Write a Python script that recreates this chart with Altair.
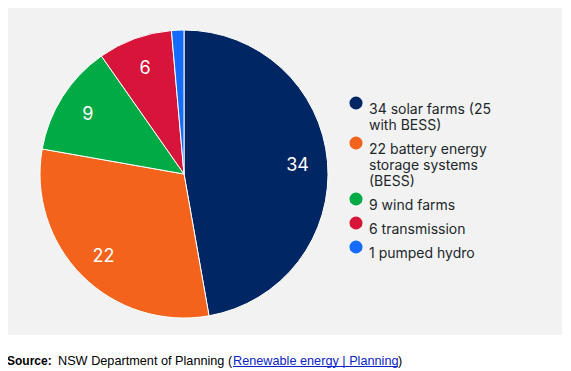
import altair as alt
import pandas as pd

categories = [
    "34 solar farms (25|with BESS)",
    "22 battery energy|storage systems|(BESS)",
    "9 wind farms",
    "6 transmission",
    "1 pumped hydro",
]
values = [34, 22, 9, 6, 1]
slice_labels = ["34", "22", "9", "6", ""]
colors = ["#002664", "#f3631b", "#00aa45", "#d7153a", "#146cfd"]

df = pd.DataFrame({
    "category": categories,
    "value": values,
    "label": slice_labels,
    "idx": list(range(len(categories))),
})

one = pd.DataFrame({"k": [0]})

cx, cy = 176, 166

bg = alt.Chart(one).mark_rect(color="#f2f2f2").encode(
    x=alt.value(0), x2=alt.value(554), y=alt.value(0), y2=alt.value(327)
)

theta = alt.Theta("value:Q", stack=True)
color = alt.Color(
    "category:N",
    scale=alt.Scale(domain=categories, range=colors),
    legend=alt.Legend(
        title=None,
        orient="none",
        legendX=341,
        legendY=88,
        symbolType="circle",
        symbolSize=170,
        symbolStrokeWidth=0,
        labelFont="Inter",
        labelFontSize=14,
        labelColor="#22272b",
        labelExpr="split(datum.label, '|')",
        labelBaseline="top",
        labelOffset=6,
        rowPadding=3,
        labelLimit=300,
    ),
)

pie = alt.Chart(df).mark_arc(radius=144, stroke="white", strokeWidth=1).encode(
    theta=theta,
    color=color,
    order=alt.Order("idx:Q"),
    x=alt.value(cx),
    y=alt.value(cy),
)

labels = alt.Chart(df).mark_text(
    radius=114, fontSize=18, color="white", font="Inter"
).encode(
    theta=theta,
    order=alt.Order("idx:Q"),
    text="label:N",
    x=alt.value(cx),
    y=alt.value(cy + 2),
)

src_font = "Liberation Sans"
src_y = 357
link_color = "#0b24c8"
s1 = alt.Chart(one).mark_text(text="Source:", font=src_font, fontSize=12, fontWeight="bold",
                              align="left", baseline="alphabetic", color="#000000").encode(
    x=alt.value(-1), y=alt.value(src_y))
s2 = alt.Chart(one).mark_text(text="NSW Department of Planning (", font=src_font, fontSize=12.7,
                              align="left", baseline="alphabetic", color="#000000").encode(
    x=alt.value(50), y=alt.value(src_y))
s3 = alt.Chart(one).mark_text(text="Renewable energy | Planning", font=src_font, fontSize=12.7,
                              align="left", baseline="alphabetic", color=link_color).encode(
    x=alt.value(225), y=alt.value(src_y))
s3u = alt.Chart(one).mark_rule(color=link_color, strokeWidth=1).encode(
    x=alt.value(225), x2=alt.value(390), y=alt.value(src_y + 1.5))
s4 = alt.Chart(one).mark_text(text=")", font=src_font, fontSize=12.7,
                              align="left", baseline="alphabetic", color="#000000").encode(
    x=alt.value(390), y=alt.value(src_y))

chart = alt.layer(bg, pie, labels, s1, s2, s3, s3u, s4).properties(
    width=555, height=363, padding=0, autosize=alt.AutoSizeParams(type="none"),
    background="white",
).configure_view(stroke=None)

chart.save("out.html", embed_options={"renderer": "svg", "actions": False})
